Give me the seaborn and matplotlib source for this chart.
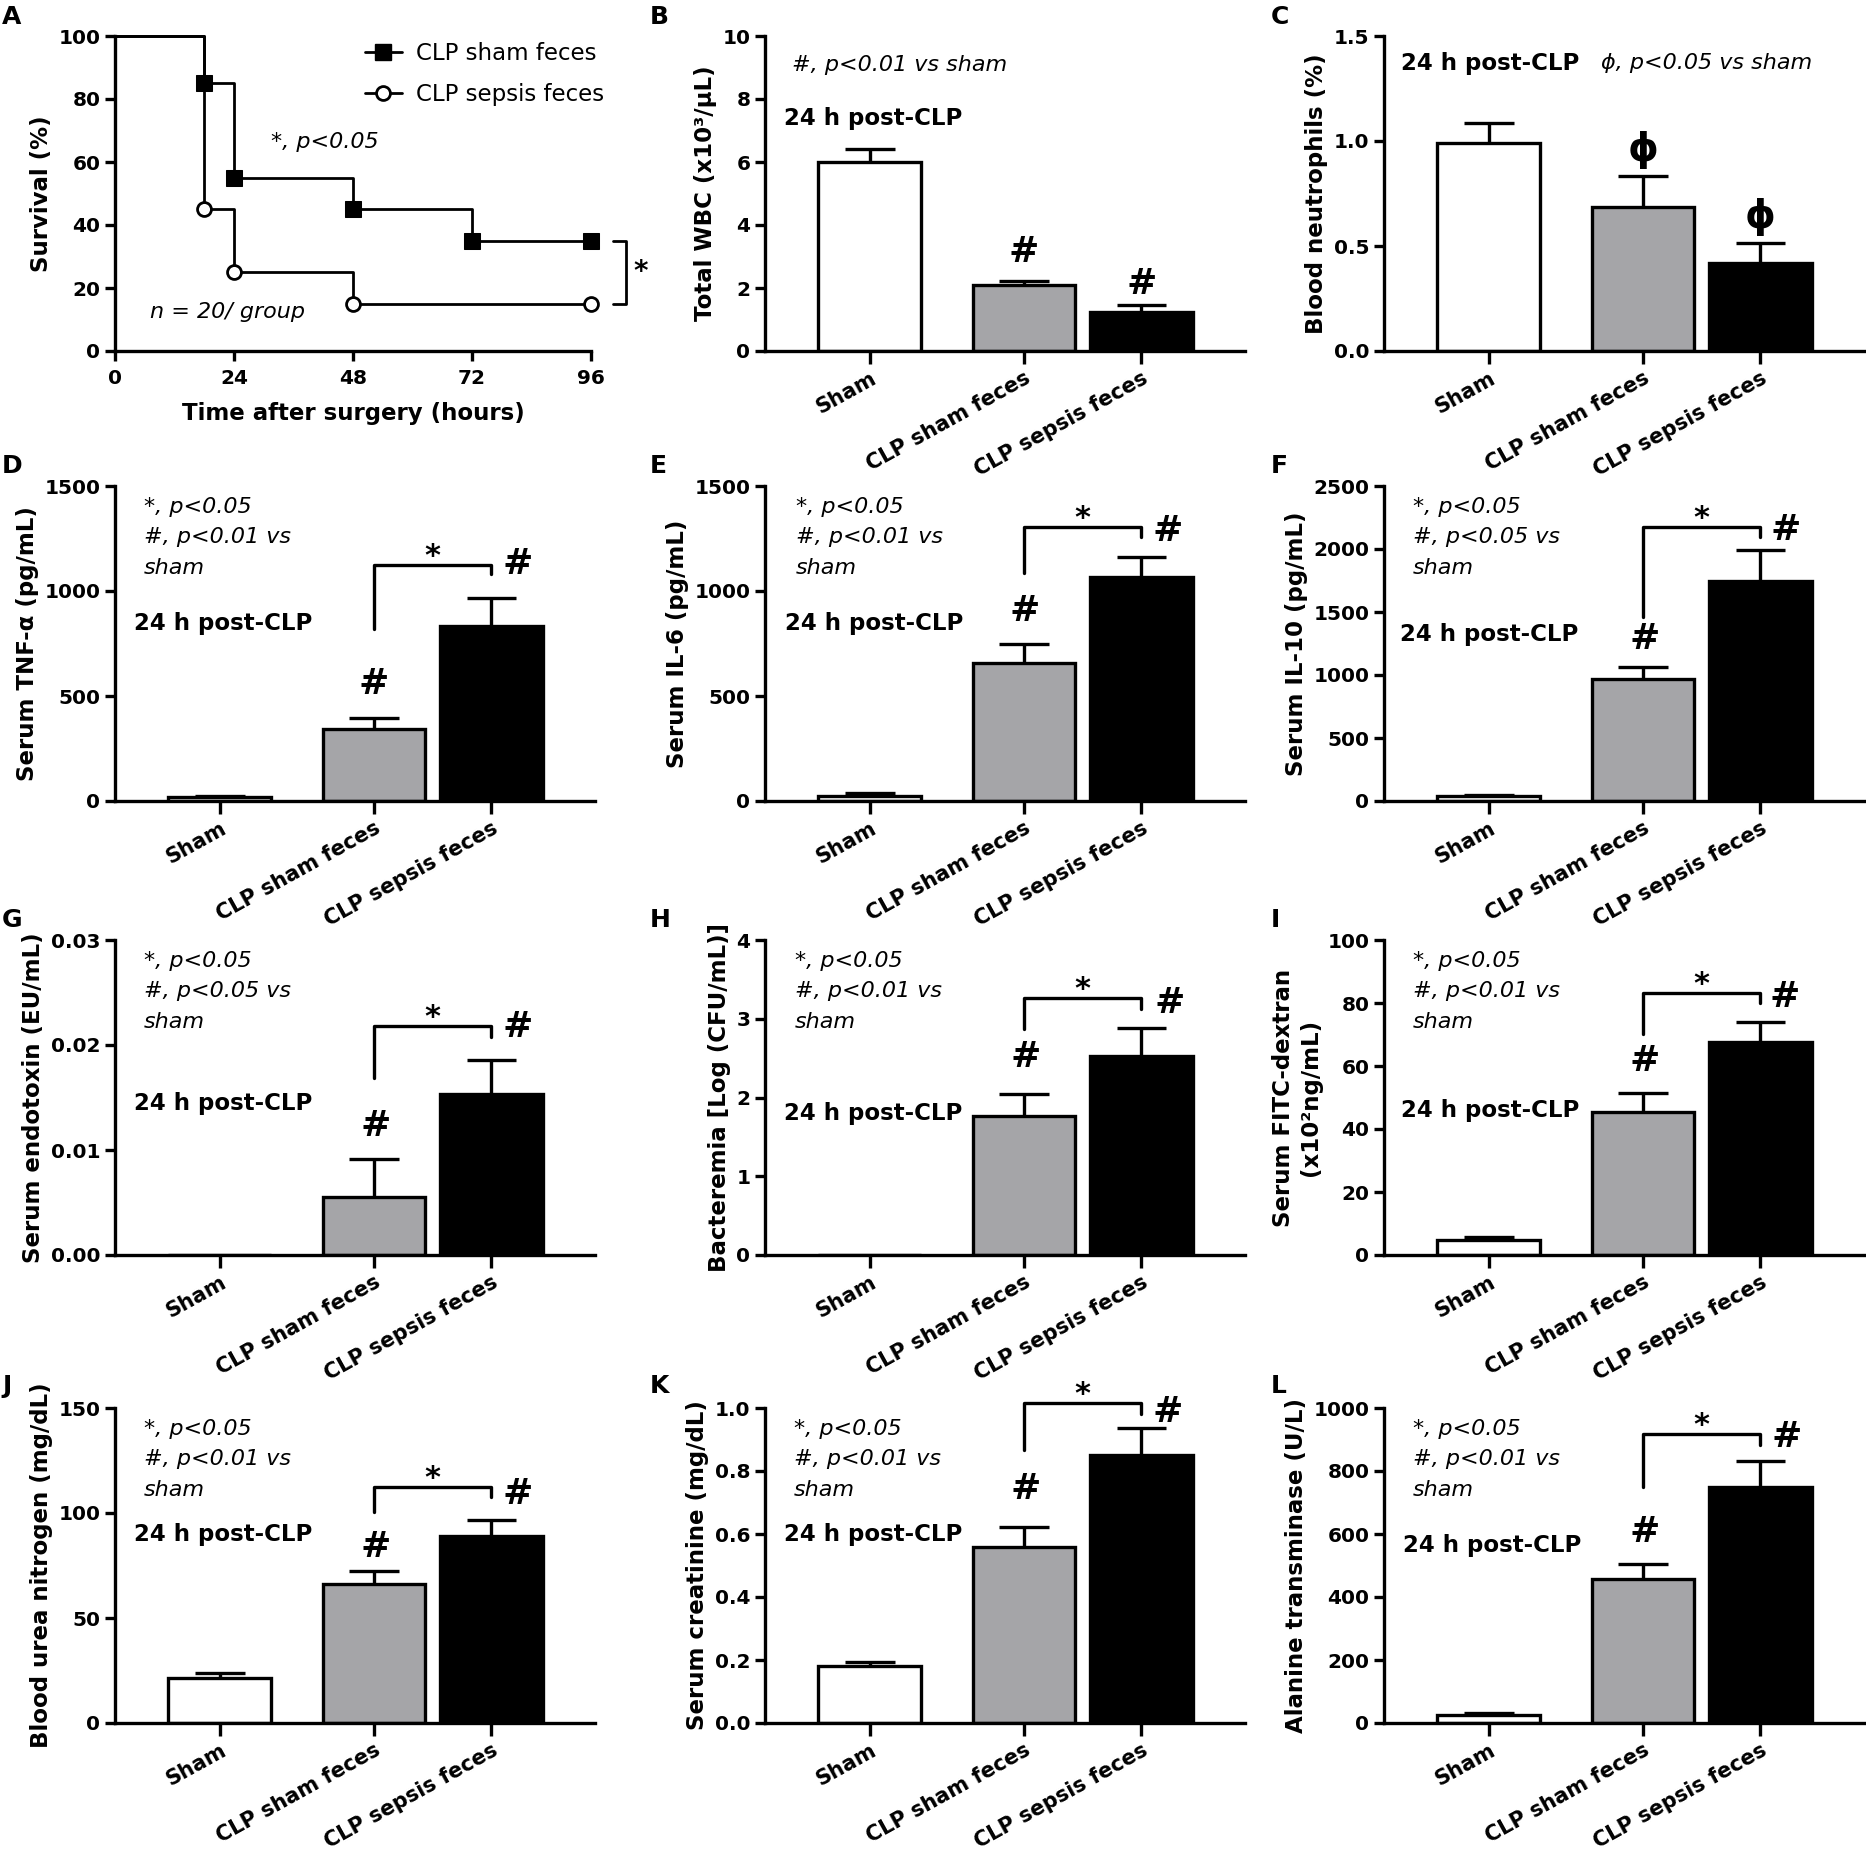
import matplotlib
matplotlib.use("Agg")
import matplotlib.pyplot as plt
from matplotlib.lines import Line2D
from matplotlib.ticker import FormatStrFormatter, MultipleLocator
from matplotlib.transforms import ScaledTranslation
import numpy as np
import pandas as pd
import seaborn as sns

# ---- data ----
groups = ["Sham", "CLP sham feces", "CLP sepsis feces"]

surv_time_sham = [0, 18, 24, 48, 72, 96]
surv_sham = [100, 85, 55, 45, 35, 35]
surv_time_sepsis = [0, 18, 24, 48, 96]
surv_sepsis = [100, 45, 25, 15, 15]

wbc_mean = [6.0, 2.1, 1.25]
wbc_sem = [0.41, 0.12, 0.21]
neut_mean = [0.99, 0.684, 0.417]
neut_sem = [0.097, 0.15, 0.095]
tnf_mean = [17, 345, 832]
tnf_sem = [7, 51, 133]
il6_mean = [24, 658, 1066]
il6_sem = [12, 89, 94]
il10_mean = [40, 965, 1743]
il10_sem = [10, 98, 253]
endotoxin_mean = [0.0, 0.0055, 0.0153]
endotoxin_sem = [0.0, 0.0036, 0.0033]
bact_mean = [0.0, 1.765, 2.527]
bact_sem = [0.0, 0.28, 0.36]
fitc_mean = [4.8, 45.5, 67.5]
fitc_sem = [0.8, 6.0, 6.6]
bun_mean = [21.4, 66.2, 89.2]
bun_sem = [2.4, 6.3, 7.4]
creat_mean = [0.18, 0.558, 0.85]
creat_sem = [0.015, 0.063, 0.085]
alt_mean = [26, 457, 750]
alt_sem = [6, 48, 82]

# ---- style ----
sns.set_style("ticks")
plt.rcParams["font.family"] = ["DejaVu Sans"]
plt.rcParams.update({
    "font.weight": "bold",
    "axes.labelweight": "bold",
    "axes.linewidth": 2.4,
    "axes.edgecolor": "black",
    "xtick.major.width": 2.4,
    "ytick.major.width": 2.4,
    "xtick.major.size": 7,
    "ytick.major.size": 7,
    "xtick.color": "black",
    "ytick.color": "black",
    "text.color": "black",
    "axes.labelcolor": "black",
})

bar_colors = dict(zip(groups, ["white", "#a5a4a9", "black"]))
bar_pos = [0.0, 1.5, 2.64]
FW, FH = 1866, 1855
LW = 2.4
TICK_FS = 14.5
LABEL_FS = 16.5
NOTE_FS = 16
XT_FS = 15

fig = plt.figure(figsize=(FW / 100, FH / 100), dpi=100)


def add_ax(left, top, w, h):
    return fig.add_axes([left / FW, 1 - (top + h) / FH, w / FW, h / FH])


col_left = [115, 765, 1384]
row_top = [36, 486, 940, 1408]
AX_W, AX_H = 480, 315

# ---- panel A: survival ----
ax = add_ax(115, 36, 476, 315)
sns.lineplot(x=surv_time_sham, y=surv_sham, drawstyle="steps-post", color="black", lw=2,
             marker="s", markersize=11, markerfacecolor="black", markeredgecolor="black",
             markevery=list(range(1, len(surv_sham))), estimator=None, sort=False,
             errorbar=None, clip_on=False, ax=ax)
sns.lineplot(x=surv_time_sepsis, y=surv_sepsis, drawstyle="steps-post", color="black", lw=2,
             marker="o", markersize=10, markerfacecolor="white", markeredgecolor="black",
             markeredgewidth=2, markevery=list(range(1, len(surv_sepsis))), estimator=None,
             sort=False, errorbar=None, clip_on=False, ax=ax)
ax.set_xlim(0, 96)
ax.set_ylim(0, 100)
ax.set_xticks([0, 24, 48, 72, 96])
ax.set_yticks(range(0, 101, 20))
ax.tick_params(labelsize=TICK_FS)
ax.tick_params(axis="x", pad=6)
ax.set_xlabel("Time after surgery (hours)", fontsize=LABEL_FS, labelpad=10)
ax.set_ylabel("Survival (%)", fontsize=LABEL_FS)
sns.despine(ax=ax)
handles = [
    Line2D([], [], color="black", lw=2, marker="s", markersize=11,
           markerfacecolor="black", markeredgecolor="black"),
    Line2D([], [], color="black", lw=2, marker="o", markersize=10,
           markerfacecolor="white", markeredgecolor="black", markeredgewidth=2),
]
ax.legend(handles, ["CLP sham feces", "CLP sepsis feces"], loc="upper right",
          bbox_to_anchor=(1.07, 1.045), frameon=False, prop={"size": 16.5, "weight": "normal"},
          handlelength=1.6, handletextpad=0.6, labelspacing=0.75)
ax.text(31.5, 66.5, "*, p<0.05", style="italic", weight="normal", fontsize=NOTE_FS, va="center")
ax.text(7, 12.5, "n = 20/ group", style="italic", weight="normal", fontsize=NOTE_FS, va="center")
ax.plot([100.5, 103, 103, 100.5], [35, 35, 15, 15], color="black", lw=2, clip_on=False)
ax.text(104.5, 25, "*", fontsize=20, va="center", ha="left")

# ---- bar panels ----
note_01 = "*, p<0.05\n#, p<0.01 vs\nsham"
note_05 = "*, p<0.05\n#, p<0.05 vs\nsham"

panels = [
    dict(letter="B", cell=(0, 1), mean=wbc_mean, sem=wbc_sem, ymax=10, step=2, fmt="%d",
         ylabel="Total WBC (x10³/µL)", note=("#, p<0.01 vs sham", -0.76, 0.908, "center"),
         clp=(-0.84, 0.739), marks=[("#", 1.5, 3.15), ("#", 2.64, 2.12)], bracket=None),
    dict(letter="C", cell=(0, 2), mean=neut_mean, sem=neut_sem, ymax=1.5, step=0.5, fmt="%.1f",
         ylabel="Blood neutrophils (%)", note=("ϕ, p<0.05 vs sham", 1.09, 0.913, "center"),
         clp=(-0.85, 0.913), marks=[("ϕ", 1.5, 0.957), ("ϕ", 2.64, 0.64)], bracket=None),
    dict(letter="D", cell=(1, 0), mean=tnf_mean, sem=tnf_sem, ymax=1500, step=500, fmt="%d",
         ylabel="Serum TNF-α (pg/mL)", note=(note_01, -0.74, 0.965, "top"),
         clp=(-0.84, 0.562), marks=[("#", 1.5, 558), ("#", 2.9, 1128)], bracket=(820, 1123, 1080)),
    dict(letter="E", cell=(1, 1), mean=il6_mean, sem=il6_sem, ymax=1500, step=500, fmt="%d",
         ylabel="Serum IL-6 (pg/mL)", note=(note_01, -0.72, 0.965, "top"),
         clp=(-0.83, 0.562), marks=[("#", 1.51, 907), ("#", 2.9, 1286)], bracket=(1084, 1305, 1255)),
    dict(letter="F", cell=(1, 2), mean=il10_mean, sem=il10_sem, ymax=2500, step=500, fmt="%d",
         ylabel="Serum IL-10 (pg/mL)", note=(note_05, -0.74, 0.965, "top"),
         clp=(-0.86, 0.53), marks=[("#", 1.52, 1287), ("#", 2.89, 2149)], bracket=(1464, 2176, 2097)),
    dict(letter="G", cell=(2, 0), mean=endotoxin_mean, sem=endotoxin_sem, ymax=0.03, step=0.01,
         fmt="%.2f", ylabel="Serum endotoxin (EU/mL)", note=(note_05, -0.74, 0.965, "top"),
         clp=(-0.84, 0.482), marks=[("#", 1.52, 0.0123), ("#", 2.9, 0.0217)],
         bracket=(0.0169, 0.0218, 0.0208)),
    dict(letter="H", cell=(2, 1), mean=bact_mean, sem=bact_sem, ymax=4, step=1, fmt="%d",
         ylabel="Bacteremia [Log (CFU/mL)]", note=(note_01, -0.73, 0.965, "top"),
         clp=(-0.84, 0.45), marks=[("#", 1.52, 2.52), ("#", 2.92, 3.2)], bracket=(2.866, 3.26, 3.13)),
    dict(letter="I", cell=(2, 2), mean=fitc_mean, sem=fitc_sem, ymax=100, step=20, fmt="%d",
         ylabel="Serum FITC-dextran\n(x10²ng/mL)", note=(note_01, -0.74, 0.965, "top"),
         clp=(-0.85, 0.46), marks=[("#", 1.52, 61.7), ("#", 2.88, 82)], bracket=(70.2, 83.1, 79.9)),
    dict(letter="J", cell=(3, 0), mean=bun_mean, sem=bun_sem, ymax=150, step=50, fmt="%d",
         ylabel="Blood urea nitrogen (mg/dL)", note=(note_01, -0.74, 0.965, "top"),
         clp=(-0.84, 0.597), marks=[("#", 1.52, 84), ("#", 2.9, 109)], bracket=(100.6, 112.2, 107.4)),
    dict(letter="K", cell=(3, 1), mean=creat_mean, sem=creat_sem, ymax=1.0, step=0.2, fmt="%.1f",
         ylabel="Serum creatinine (mg/dL)", note=(note_01, -0.74, 0.965, "top"),
         clp=(-0.84, 0.60), marks=[("#", 1.52, 0.744), ("#", 2.9, 0.987)], bracket=(0.866, 1.016, 0.982)),
    dict(letter="L", cell=(3, 2), mean=alt_mean, sem=alt_sem, ymax=1000, step=200, fmt="%d",
         ylabel="Alanine transminase (U/L)", note=(note_01, -0.74, 0.965, "top"),
         clp=(-0.84, 0.565), marks=[("#", 1.52, 607), ("#", 2.9, 908)], bracket=(748, 917, 882)),
]

gaps = np.diff(bar_pos).min()
label_shift = ScaledTranslation(-7 / 100, -5 / 100, fig.dpi_scale_trans)

for p in panels:
    r, c = p["cell"]
    ax = add_ax(col_left[c], row_top[r], AX_W, AX_H)
    df = pd.DataFrame({"pos": bar_pos, "group": groups, "value": p["mean"]})
    sns.barplot(data=df, x="pos", y="value", hue="group", hue_order=groups, palette=bar_colors,
                native_scale=True, width=1.0 / gaps, edgecolor="black", linewidth=LW,
                errorbar=None, legend=False, ax=ax)
    mean = np.array(p["mean"], dtype=float)
    sem = np.array(p["sem"], dtype=float)
    pos = np.array(bar_pos)
    keep = sem > 0
    ax.vlines(pos[keep], mean[keep], (mean + sem)[keep], color="black", lw=LW)
    ax.hlines((mean + sem)[keep], pos[keep] - 0.24, pos[keep] + 0.24, color="black", lw=LW)

    ax.set_xlim(-1.02, 3.65)
    ax.set_ylim(0, p["ymax"])
    ax.yaxis.set_major_locator(MultipleLocator(p["step"]))
    ax.yaxis.set_major_formatter(FormatStrFormatter(p["fmt"]))
    ax.set_xticks(bar_pos)
    ax.set_xticklabels(groups, rotation=29, ha="right", rotation_mode="anchor", fontsize=XT_FS)
    for lab in ax.get_xticklabels():
        lab.set_transform(lab.get_transform() + label_shift)
    ax.tick_params(axis="y", labelsize=TICK_FS)
    ax.tick_params(axis="x", length=9)
    ax.set_xlabel("")
    ax.set_ylabel(p["ylabel"], fontsize=LABEL_FS)
    sns.despine(ax=ax)

    tr = ax.get_xaxis_transform()
    txt, nx, ny, nva = p["note"]
    ax.text(nx, ny, txt, transform=tr, style="italic", weight="normal", fontsize=NOTE_FS,
            va=nva, ha="left", linespacing=1.65)
    ax.text(p["clp"][0], p["clp"][1], "24 h post-CLP", transform=tr, fontsize=16.5,
            va="center", ha="left")
    for sym, mx, my in p["marks"]:
        ax.text(mx, my, sym, fontsize=28 if sym == "ϕ" else 26, ha="center", va="center")
    if p["bracket"] is not None:
        low, top, right_low = p["bracket"]
        ax.plot([bar_pos[1], bar_pos[1], bar_pos[2], bar_pos[2]], [low, top, top, right_low],
                color="black", lw=LW, clip_on=False)
        ax.text((bar_pos[1] + bar_pos[2]) / 2, top, "*", fontsize=22, ha="center", va="baseline")

# ---- panel letters ----
letter_x = [2, 650, 1271]
letter_y = [17, 466, 920, 1386]
letters = ["ABC", "DEF", "GHI", "JKL"]
for r, row in enumerate(letters):
    for c, let in enumerate(row):
        fig.text(letter_x[c] / FW, 1 - letter_y[r] / FH, let, fontsize=18, ha="left", va="center")

fig.savefig("out.png", dpi=100, facecolor="white")
